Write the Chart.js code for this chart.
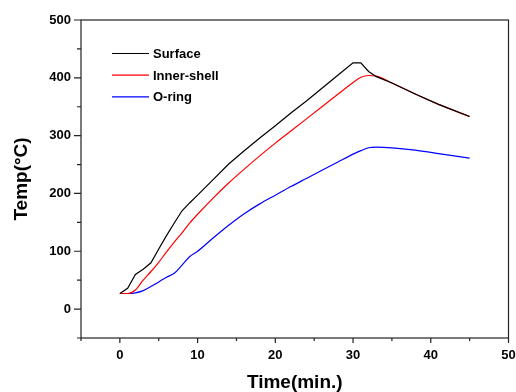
<!DOCTYPE html>
<html lang="en">
  <head>
    <meta charset="UTF-8" />
    <title>Temperature vs time</title>
    <script src="https://cdn.jsdelivr.net/npm/chart.js@4"></script>
    <style>
      body { margin: 0; background: #fff; }
    </style>
  </head>
  <body>
    <canvas id="myChart" width="516" height="392"></canvas>

    <script>
      // readings taken off the curves, minutes / deg C
      const times      = [0, 1, 2, 3, 4, 5, 6, 7, 8, 9, 10, 12, 14, 16, 18, 20, 22, 24, 26, 28, 30, 31, 32, 33, 35, 38, 41, 45];
      const surface    = [27, 36, 60, 69, 80, 104, 127, 149, 170, 184, 197, 224, 251, 274, 296, 317, 339, 360, 382, 404, 426, 426, 411, 402, 391, 372, 354, 333];
      const innerShell = [27, 27, 33, 50, 65, 81, 99, 116, 132, 149, 164, 192, 218, 242, 265, 287, 308, 329, 350, 371, 392, 401, 404, 403, 391, 372, 354, 333];
      const oRing      = [27, 27, 28, 32, 39, 47, 55, 62, 76, 91, 100, 123, 145, 165, 182, 197, 212, 226, 240, 254, 268, 274, 279, 280, 279, 275, 269, 261];

      const seriesNames  = ['Surface', 'Inner-shell', 'O-ring'];
      const seriesColors = ['#000000', '#ff0000', '#0000ff'];
      const xLabels = [0, 10, 20, 30, 40, 50];
      const yLabels = [0, 100, 200, 300, 400, 500];

      const FONT = 'Arial, "Liberation Sans", sans-serif';

      function toPoints(vals) {
        return times.map((t, i) => ({ x: t, y: vals[i] }));
      }

      // box around plot, outward major/minor ticks, legend inside the plot
      const framePlugin = {
        id: 'frame',
        afterDraw(chart) {
          const ctx = chart.ctx;
          const a = chart.chartArea;
          const xs = chart.scales.x;
          const ys = chart.scales.y;
          ctx.save();
          ctx.strokeStyle = '#222';
          ctx.lineWidth = 1.2;
          ctx.strokeRect(a.left, a.top, a.right - a.left, a.bottom - a.top);

          ctx.beginPath();
          xs.ticks.forEach(t => {
            const px = xs.getPixelForValue(t.value);
            const len = xLabels.includes(t.value) ? 5 : 3;
            ctx.moveTo(px, a.bottom);
            ctx.lineTo(px, a.bottom + len);
          });
          ys.ticks.forEach(t => {
            const py = ys.getPixelForValue(t.value);
            const len = yLabels.includes(t.value) ? 7 : 4;
            ctx.moveTo(a.left, py);
            ctx.lineTo(a.left - len, py);
          });
          ctx.stroke();

          // legend
          ctx.font = 'bold 13px ' + FONT;
          ctx.textBaseline = 'middle';
          ctx.textAlign = 'left';
          chart.data.datasets.forEach((ds, i) => {
            const y = 53.5 + i * 21.7;
            ctx.strokeStyle = ds.borderColor;
            ctx.lineWidth = 1.2;
            ctx.beginPath();
            ctx.moveTo(112, y);
            ctx.lineTo(149, y);
            ctx.stroke();
            ctx.fillStyle = '#000';
            ctx.fillText(ds.label, 153, y + 0.8);
          });
          ctx.restore();
        }
      };

      const ctx = document.getElementById('myChart').getContext('2d');
      const myChart = new Chart(ctx, {
        type: 'line',
        data: {
          datasets: [surface, innerShell, oRing].map((vals, i) => ({
            label: seriesNames[i],
            data: toPoints(vals),
            borderColor: seriesColors[i],
            backgroundColor: seriesColors[i],
            borderWidth: 1.2,
            pointRadius: 0,
            fill: false,
            cubicInterpolationMode: i === 0 ? 'default' : 'monotone',
            tension: 0
          }))
        },
        options: {
          responsive: false,
          animation: false,
          devicePixelRatio: 1,
          layout: { padding: { top: 20, right: 7.5, left: 0, bottom: 0 } },
          plugins: {
            legend: { display: false },
            tooltip: { enabled: false }
          },
          scales: {
            x: {
              type: 'linear',
              min: -5,
              max: 50,
              grid: { display: false, drawTicks: false },
              border: { display: false },
              ticks: {
                stepSize: 5,
                autoSkip: false,
                maxRotation: 0,
                padding: 10,
                color: '#000',
                font: { family: FONT, size: 13, weight: 'bold' },
                callback: v => (xLabels.includes(v) ? String(v) : '')
              },
              title: {
                display: true,
                text: 'Time(min.)',
                color: '#000',
                padding: { top: 0, bottom: 0 },
                font: { family: FONT, size: 19, weight: 'bold', lineHeight: 1 }
              },
              afterFit: s => {
                s.height = 54;
                s.paddingLeft = 0;
                s.paddingRight = 0;
              }
            },
            y: {
              min: -50,
              max: 500,
              grid: { display: false, drawTicks: false },
              border: { display: false },
              ticks: {
                stepSize: 50,
                autoSkip: false,
                padding: 10,
                color: '#000',
                font: { family: FONT, size: 13, weight: 'bold' },
                callback: v => (yLabels.includes(v) ? String(v) : '')
              },
              title: {
                display: true,
                text: 'Temp(°C)',
                color: '#000',
                padding: { top: 12.5, bottom: 0 },
                font: { family: FONT, size: 19, weight: 'bold', lineHeight: 1 }
              },
              afterFit: s => {
                s.width = 81;
                s.paddingTop = 0;
                s.paddingBottom = 0;
              }
            }
          }
        },
        plugins: [framePlugin]
      });
    </script>
  </body>
</html>
